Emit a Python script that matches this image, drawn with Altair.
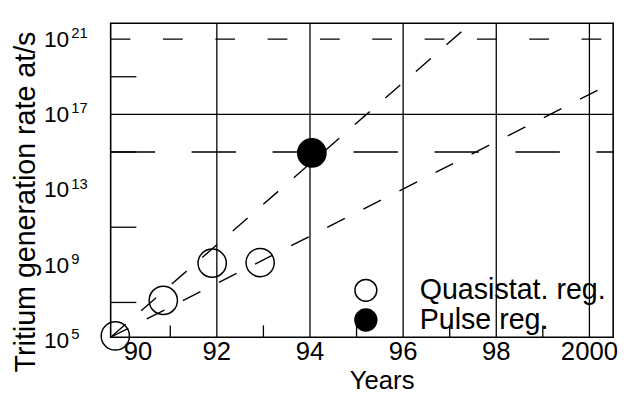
import altair as alt
import pandas as pd

# ---- data ----
quasi_years = [89.82, 90.85, 91.90, 92.93]
quasi_rates = [10**5.22, 10**7.11, 10**9.09, 10**9.12]
pulse_years = [94.04]
pulse_rates = [10**14.95]

fast_years = [89.72, 97.46]
fast_rates = [10**5.15, 10**21.84]
slow_years = [89.72, 100.51]
slow_rates = [10**5.15, 10**18.7]

x_tick_years = [90, 92, 94, 96, 98, 100]
x_tick_labels = ["90", "92", "94", "96", "98", "2000"]
grid_years = [92, 94, 96, 98, 100]
minor_years = [91, 93, 95, 97, 99]
y_label_exps = [5, 9, 13, 17, 21]
y_minor_exps = [7, 11, 15, 19]
solid_levels = [1e17]
long_dash_levels = [1e15]
short_dash_levels = [1e21]

y_title = "Tritium generation rate at/s"
x_title = "Years"
regimes = ["Quasistat. reg.", "Pulse reg."]

X_DOMAIN = [89.72, 100.51]
Y_DOMAIN = [10**5.15, 10**21.84]
W, H = 509, 318
FONT = "Liberation Sans"

xs = alt.Scale(domain=X_DOMAIN, nice=False, zero=False)
ys = alt.Scale(type="log", domain=Y_DOMAIN, nice=False)

# ---- layers ----
grid = alt.Chart(pd.DataFrame({"year": grid_years})).mark_rule(
    color="black", strokeWidth=1.3
).encode(x=alt.X("year:Q", scale=xs, axis=None), y=alt.value(0), y2=alt.value(H))

minor_x = alt.Chart(pd.DataFrame({"year": minor_years})).mark_rule(
    color="black", strokeWidth=1.3
).encode(x=alt.X("year:Q", scale=xs, axis=None), y=alt.value(H), y2=alt.value(H - 12))

minor_y = alt.Chart(pd.DataFrame({"rate": [10.0**e for e in y_minor_exps]})).mark_rule(
    color="black", strokeWidth=1.3
).encode(y=alt.Y("rate:Q", scale=ys, axis=None), x=alt.value(0), x2=alt.value(26))

solid_h = alt.Chart(pd.DataFrame({"rate": solid_levels})).mark_rule(
    color="black", strokeWidth=1.3
).encode(y=alt.Y("rate:Q", scale=ys, axis=None), x=alt.value(0), x2=alt.value(W))

long_dash = alt.Chart(pd.DataFrame({"rate": long_dash_levels})).mark_rule(
    color="black", strokeWidth=1.5, strokeDash=[45, 37]
).encode(y=alt.Y("rate:Q", scale=ys, axis=None), x=alt.value(0), x2=alt.value(W))

short_dash = alt.Chart(pd.DataFrame({"rate": short_dash_levels})).mark_rule(
    color="black", strokeWidth=1.2, strokeDash=[20, 33]
).encode(y=alt.Y("rate:Q", scale=ys, axis=None), x=alt.value(0), x2=alt.value(W))

trend_df = pd.DataFrame({
    "year": fast_years + slow_years,
    "rate": fast_rates + slow_rates,
    "trend": ["fast"] * len(fast_years) + ["slow"] * len(slow_years),
})
trends = alt.Chart(trend_df).mark_line(
    color="black", strokeWidth=1.4, strokeDash=[20, 21], clip=True
).encode(
    x=alt.X("year:Q", scale=xs, axis=None),
    y=alt.Y("rate:Q", scale=ys, axis=None),
    detail="trend:N",
)

pts = pd.DataFrame({
    "year": quasi_years + pulse_years,
    "rate": quasi_rates + pulse_rates,
    "regime": [regimes[0]] * len(quasi_years) + [regimes[1]] * len(pulse_years),
})

points = alt.Chart(pts).mark_point(
    filled=True, shape="circle", size=820, stroke="black", strokeWidth=1.5, opacity=1
).encode(
    x=alt.X("year:Q", scale=xs, axis=None),
    y=alt.Y("rate:Q", scale=ys, axis=None),
    fill=alt.Fill(
        "regime:N",
        scale=alt.Scale(domain=regimes, range=["transparent", "black"]),
        legend=alt.Legend(
            orient="none", legendX=244, legendY=256, title=None,
            symbolType="circle", symbolSize=490, symbolStrokeColor="black",
            symbolStrokeWidth=1.5, symbolOpacity=1,
            labelFontSize=29, labelOffset=40, labelColor="black", labelFont=FONT,
            labelLimit=400, rowPadding=0, padding=0,
        ),
    ),
)

# x tick labels (the first one sits to the right of its year, as in the reference)
xlab_df = pd.DataFrame({"year": x_tick_years, "label": x_tick_labels})
xlab_first = alt.Chart(xlab_df).transform_filter("datum.year == 90").mark_text(
    align="left", baseline="alphabetic", fontSize=26, color="black"
).encode(x=alt.X("year:Q", scale=xs, axis=None), y=alt.value(H + 23), text="label:N")
xlab_rest = alt.Chart(xlab_df).transform_filter("datum.year != 90").mark_text(
    align="center", baseline="alphabetic", fontSize=26, color="black"
).encode(x=alt.X("year:Q", scale=xs, axis=None), y=alt.value(H + 23), text="label:N")

xtitle = alt.Chart(pd.DataFrame({"t": [x_title]})).mark_text(
    align="center", baseline="alphabetic", fontSize=26, color="black"
).encode(x=alt.value(275), y=alt.value(H + 52), text="t:N")

ylab_df = pd.DataFrame({"rate": [10.0**e for e in y_label_exps], "exp": [str(e) for e in y_label_exps]})
ylab_base = alt.Chart(ylab_df).mark_text(
    align="right", baseline="middle", fontSize=23, dy=1, color="black"
).encode(y=alt.Y("rate:Q", scale=ys, axis=None), x=alt.value(-42), text=alt.value("10"))
ylab_exp = alt.Chart(ylab_df).mark_text(
    align="left", baseline="middle", fontSize=15, dy=-6, color="black"
).encode(y=alt.Y("rate:Q", scale=ys, axis=None), x=alt.value(-40), text="exp:N")

ytitle = alt.Chart(pd.DataFrame({"t": [y_title]})).mark_text(
    angle=270, align="center", baseline="middle", fontSize=29, color="black"
).encode(x=alt.value(-86), y=alt.value(181), text="t:N")

chart = alt.layer(
    grid, minor_x, minor_y, solid_h, long_dash, short_dash, trends, points,
    xlab_first, xlab_rest, xtitle, ylab_base, ylab_exp, ytitle,
).properties(
    width=W, height=H,
    autosize=alt.AutoSizeParams(type="none"),
    padding={"left": 104, "top": 13, "right": 12, "bottom": 58},
).configure(
    font=FONT,
).configure_view(
    stroke="black", strokeWidth=1.6,
).configure_text(font=FONT)

chart.save("out.html", embed_options={"renderer": "svg", "actions": False})
